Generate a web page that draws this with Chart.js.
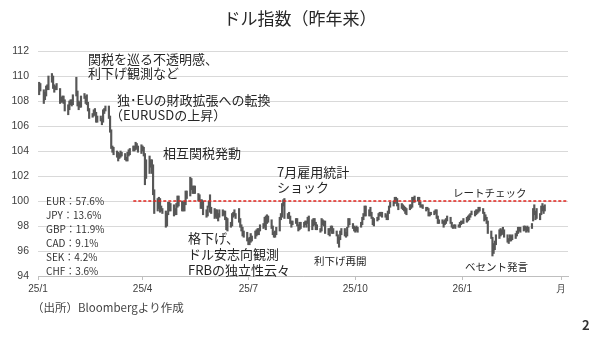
<!DOCTYPE html>
<html>
<head>
<meta charset="utf-8">
<script src="https://cdn.jsdelivr.net/npm/chart.js@4.4.1/dist/chart.umd.min.js"></script>
<style>
    html, body { margin: 0; padding: 0; background: #ffffff; }
    #wrap { width: 600px; height: 338px; }
</style>
</head>
<body>
<div id="wrap"><canvas id="dxyChart" width="600" height="338"></canvas></div>
<script>
// x axis: days counted from 2025-01-01
const tickDays = [0, 90, 181, 273, 365, 450];
const tickLabels = ["25/1", "25/4", "25/7", "25/10", "26/1", "月"];

// first trading day in the series (2025-01-02), weekdays only
const firstDay = 1;

// daily low / high of the dollar index, one row per week
const lows = [
    108.5, 108.8,                          // Jan 2
    107.8, 108.1, 108.4, 108.9, 108.9,     // Jan 6
    109.5, 109.0, 108.7, 108.9, 108.9,     // Jan 13
    107.8, 107.9, 107.9, 107.8, 107.2,     // Jan 20
    106.9, 107.3, 107.7, 107.6, 107.7,     // Jan 27
    108.4, 107.6, 107.3, 107.5, 107.5,     // Feb 3
    108.2, 107.8, 107.7, 107.2, 106.6,     // Feb 10
    106.7, 106.8, 106.9, 106.3, 106.3,     // Feb 17
    106.4, 106.1, 106.3, 107.0, 107.2,     // Feb 24
    106.6, 105.5, 104.2, 103.9, 103.7,     // Mar 3
    103.5, 103.2, 103.4, 103.5, 103.6,     // Mar 10
    103.3, 103.2, 103.2, 103.6, 103.7,     // Mar 17
    104.0, 104.0, 104.1, 104.2, 103.9,     // Mar 24
    103.8, 104.0, 103.6, 101.3, 101.8,     // Mar 31
    102.2, 102.7, 102.2, 100.5, 99.0,      // Apr 7
    99.2, 99.4, 99.1, 99.2, 99.0,          // Apr 14
    97.9, 98.0, 98.9, 99.2, 99.2,          // Apr 21
    98.8, 98.9, 98.9, 99.5, 99.6,          // Apr 28
    99.2, 99.2, 99.2, 99.7, 100.2,         // May 5
    100.4, 100.9, 100.6, 100.6, 100.6,     // May 12
    100.0, 100.0, 99.4, 99.4, 98.9,        // May 19
    98.7, 98.8, 99.5, 99.1, 99.0,          // May 26
    98.6, 98.7, 98.6, 98.4, 98.7,          // Jun 2
    98.8, 98.9, 98.5, 97.7, 97.6,          // Jun 9
    97.9, 98.0, 98.7, 98.8, 98.6,          // Jun 16
    98.3, 97.9, 97.6, 97.2, 97.1,          // Jun 23
    96.8, 96.5, 96.5, 96.7, 96.8,          // Jun 30
    97.0, 97.2, 97.3, 97.3, 97.6,          // Jul 7
    97.8, 97.9, 97.7, 98.2, 98.3,          // Jul 14
    97.8, 97.3, 97.1, 97.1, 97.3,          // Jul 21
    97.6, 98.5, 98.7, 99.6, 98.6,          // Jul 28
    98.6, 98.6, 98.2, 97.9, 98.1,          // Aug 4
    98.2, 98.0, 97.6, 97.7, 97.8,          // Aug 11
    97.9, 98.1, 97.9, 98.2, 97.6,          // Aug 18
    97.7, 98.0, 98.1, 97.7, 97.7,          // Aug 25
    97.5, 97.6, 98.1, 98.0, 97.4,          // Sep 1
    97.3, 97.2, 97.6, 97.4, 97.4,          // Sep 8
    97.2, 96.6, 96.3, 96.9, 97.3,          // Sep 15
    97.2, 97.1, 97.2, 97.9, 98.1,          // Sep 22
    97.8, 97.6, 97.5, 97.6, 97.5,          // Sep 29
    97.9, 98.1, 98.5, 98.8, 98.8,          // Oct 6
    98.8, 98.8, 98.6, 98.1, 98.0,          // Oct 13
    98.4, 98.5, 98.8, 98.8, 98.7,          // Oct 20
    98.7, 98.5, 98.5, 99.0, 99.5,          // Oct 27
    99.6, 99.8, 100.0, 99.6, 99.3,         // Nov 3
    99.4, 99.3, 99.2, 99.0, 98.9,          // Nov 10
    99.3, 99.4, 99.5, 99.9, 99.9,          // Nov 17
    100.0, 99.7, 99.5, 99.5, 99.4,         // Nov 24
    99.2, 99.3, 98.8, 98.8, 98.9,          // Dec 1
    98.9, 99.0, 98.6, 98.2, 98.2,          // Dec 8
    98.2, 97.9, 98.1, 98.2, 98.4,          // Dec 15
    98.2, 97.9, 97.8, 97.9, 97.8,          // Dec 22
    97.9, 97.9, 98.1, 98.2, 98.2,          // Dec 29
    98.3, 98.4, 98.5, 98.7, 98.9,          // 2026 Jan 5
    98.8, 98.9, 99.0, 99.1, 99.2,          // Jan 12
    99.0, 98.4, 98.5, 98.2, 97.4,          // Jan 19
    97.0, 95.6, 95.8, 96.1, 96.5,          // Jan 26
    97.0, 97.2, 97.3, 97.4, 97.1,          // Feb 2
    96.7, 96.6, 96.8, 96.8, 96.9,          // Feb 9
    97.0, 97.2, 97.4, 97.6, 97.5,          // Feb 16
    97.6, 97.7, 97.5, 97.6, 97.5,          // Feb 23
    97.8, 98.4, 98.9, 98.5, 98.6,          // Mar 2
    98.5, 98.9, 99.2, 99.0, 99.2           // Mar 9
];

const highs = [
    109.5, 109.4,
    108.9, 108.7, 109.2, 109.3, 110.0,
    110.2, 110.0, 109.3, 109.2, 109.4,
    109.0, 108.3, 108.4, 108.4, 108.1,
    107.7, 108.0, 108.1, 108.1, 108.5,
    109.9, 108.8, 108.0, 107.9, 108.4,
    108.6, 108.4, 108.5, 107.9, 107.4,
    107.0, 107.3, 107.4, 107.1, 106.8,
    106.8, 106.6, 107.3, 107.4, 107.6,
    107.6, 106.8, 105.7, 104.4, 104.3,
    104.0, 103.9, 103.8, 104.0, 103.9,
    103.8, 103.5, 103.9, 104.1, 104.2,
    104.4, 104.4, 104.7, 104.6, 104.4,
    104.5, 104.4, 104.3, 103.8, 103.3,
    103.6, 103.3, 103.3, 102.9, 100.9,
    100.2, 100.3, 100.2, 99.6, 99.4,
    99.2, 99.0, 99.9, 99.9, 99.8,
    99.7, 99.4, 99.8, 100.4, 100.4,
    100.0, 99.9, 100.0, 100.8, 100.8,
    101.9, 101.8, 101.2, 101.2, 101.2,
    100.6, 100.5, 100.1, 100.1, 100.0,
    99.3, 99.6, 100.0, 100.5, 99.5,
    99.4, 99.3, 99.3, 99.0, 99.3,
    99.3, 99.2, 99.2, 98.7, 98.6,
    98.3, 99.0, 99.1, 99.3, 99.0,
    99.4, 98.6, 98.1, 97.9, 97.6,
    97.5, 97.0, 97.1, 97.4, 97.2,
    97.6, 97.7, 97.8, 97.8, 98.1,
    98.2, 98.7, 98.8, 98.9, 98.8,
    98.5, 98.0, 97.5, 97.6, 97.9,
    98.7, 99.0, 99.8, 100.1, 100.2,
    99.0, 99.1, 98.8, 98.4, 98.4,
    98.6, 98.6, 98.1, 98.3, 98.3,
    98.3, 98.4, 98.4, 98.7, 98.8,
    98.5, 98.6, 98.6, 98.3, 98.1,
    97.8, 98.6, 98.5, 98.4, 98.4,
    97.8, 97.8, 98.0, 98.0, 97.8,
    97.6, 97.3, 97.1, 97.6, 97.8,
    97.8, 97.5, 97.9, 98.6, 98.6,
    98.2, 98.0, 97.9, 98.0, 97.9,
    98.3, 98.7, 99.0, 99.6, 99.6,
    99.3, 99.5, 99.1, 98.7, 98.6,
    98.7, 99.0, 99.1, 99.1, 99.1,
    99.0, 98.9, 99.2, 99.6, 99.9,
    100.0, 100.3, 100.3, 100.2, 99.8,
    99.8, 99.7, 99.6, 99.5, 99.4,
    99.7, 99.7, 100.3, 100.3, 100.4,
    100.3, 100.3, 99.9, 99.7, 99.7,
    99.5, 99.5, 99.4, 99.1, 99.1,
    99.2, 99.3, 99.3, 98.8, 98.5,
    98.5, 98.4, 98.5, 98.6, 98.8,
    98.7, 98.3, 98.0, 98.1, 98.1,
    98.1, 98.3, 98.4, 98.4, 98.6,
    98.7, 98.8, 98.9, 99.0, 99.2,
    99.2, 99.3, 99.3, 99.5, 99.5,
    99.4, 99.1, 98.9, 98.7, 98.4,
    97.6, 97.1, 96.6, 96.8, 97.3,
    97.7, 97.8, 97.7, 97.9, 97.7,
    97.3, 97.0, 97.3, 97.2, 97.3,
    97.4, 97.6, 97.9, 97.9, 97.9,
    98.0, 98.0, 97.9, 98.0, 97.9,
    98.2, 99.4, 99.7, 99.2, 99.4,
    99.0, 99.6, 99.8, 99.6, 99.7
];

// 100 reference line (start / end day)
const refLevel = 100;
const refStartDay = 82;
const refEndDay = 456;

// currency weights in the index
const currencies = ["EUR", "JPY", "GBP", "CAD", "SEK", "CHF"];
const weights = [57.6, 13.6, 11.9, 9.1, 4.2, 3.6];

const notes = [
    { x: 88, y: 59, size: 13, gap: 14, lines: ["関税を巡る不透明感、", "利下げ観測など"] },
    { x: 117, y: 100, size: 13, gap: 15, lines: ["独･EUの財政拡張への転換"] },
    { x: 110, y: 115, size: 13, gap: 15, lines: ["（EURUSDの上昇）"] },
    { x: 163, y: 153, size: 13, gap: 15, lines: ["相互関税発動"] },
    { x: 277, y: 172, size: 13, gap: 15, lines: ["7月雇用統計", "ショック"] },
    { x: 188, y: 238, size: 13, gap: 16, lines: ["格下げ、", "ドル安志向観測", "FRBの独立性云々"] },
    { x: 314, y: 261, size: 10.5, gap: 14, lines: ["利下げ再開"] },
    { x: 453, y: 193, size: 10.5, gap: 14, lines: ["レートチェック"] },
    { x: 465, y: 267, size: 10.5, gap: 14, lines: ["ベセント発言"] }
];

const jpFont = '"Noto Sans CJK JP", "Noto Sans", sans-serif';

function buildBars() {
    const bars = [];
    let day = firstDay;
    for (let i = 0; i < lows.length; i++) {
        // skip weekends (2025-01-01 was a Wednesday)
        while ((3 + day) % 7 === 0 || (3 + day) % 7 === 6) day++;
        bars.push({ x: day, y: [lows[i], highs[i]] });
        day++;
    }
    return bars;
}

const textPlugin = {
    id: "textPlugin",
    afterDraw(chart) {
        const c = chart.ctx;
        c.save();
        c.fillStyle = "#262626";
        c.textBaseline = "middle";

        c.font = "17px " + jpFont;
        c.textAlign = "center";
        c.fillText("ドル指数（昨年来）", 300, 19);

        c.textAlign = "left";
        notes.forEach((note) => {
            c.font = note.size + "px " + jpFont;
            note.lines.forEach((line, i) => {
                c.fillText(line, note.x, note.y + i * note.gap);
            });
        });

        c.font = "10px " + jpFont;
        c.fillStyle = "#333333";
        currencies.forEach((cur, i) => {
            c.fillText(cur + "：" + weights[i].toFixed(1) + "%", 46, 201 + i * 14);
        });

        c.font = "11.5px " + jpFont;
        c.fillStyle = "#444444";
        c.fillText("（出所）Bloombergより作成", 32, 308);

        c.font = "bold 13px " + jpFont;
        c.fillStyle = "#333333";
        c.fillText("2", 582, 325);
        c.restore();
    }
};

const ctx = document.getElementById("dxyChart");

new Chart(ctx, {
    type: "bar",
    data: {
        datasets: [
            {
                type: "line",
                data: [{ x: refStartDay, y: refLevel }, { x: refEndDay, y: refLevel }],
                borderColor: "#e3231c",
                borderWidth: 1.3,
                borderDash: [3, 2],
                pointRadius: 0,
                order: 0
            },
            {
                type: "bar",
                data: buildBars(),
                backgroundColor: "#575757",
                barThickness: 1.5,
                order: 1
            }
        ]
    },
    options: {
        responsive: false,
        animation: false,
        layout: { padding: { top: 51, right: 32, left: 0, bottom: 0 } },
        plugins: {
            legend: { display: false },
            tooltip: { enabled: false }
        },
        scales: {
            x: {
                type: "linear",
                min: 0,
                max: 456,
                offset: false,
                afterBuildTicks: (scale) => {
                    scale.ticks = tickDays.map((v) => ({ value: v }));
                },
                afterFit: (scale) => {
                    scale.height = 62;
                },
                ticks: {
                    autoSkip: false,
                    maxRotation: 0,
                    padding: 3,
                    color: "#404040",
                    font: { family: "Liberation Sans", size: 10 },
                    callback: (value) => tickLabels[tickDays.indexOf(value)]
                },
                grid: {
                    drawOnChartArea: false,
                    tickLength: 4,
                    color: "#bfbfbf",
                    offset: false
                },
                border: { color: "#bfbfbf" }
            },
            y: {
                min: 94,
                max: 112,
                afterFit: (scale) => {
                    scale.width = 38;
                },
                ticks: {
                    stepSize: 2,
                    padding: 9,
                    color: "#404040",
                    font: { family: "Liberation Sans", size: 10.5 }
                },
                grid: {
                    drawTicks: false,
                    color: "#d9d9d9"
                },
                border: { display: false }
            }
        }
    },
    plugins: [textPlugin]
});
</script>
</body>
</html>
